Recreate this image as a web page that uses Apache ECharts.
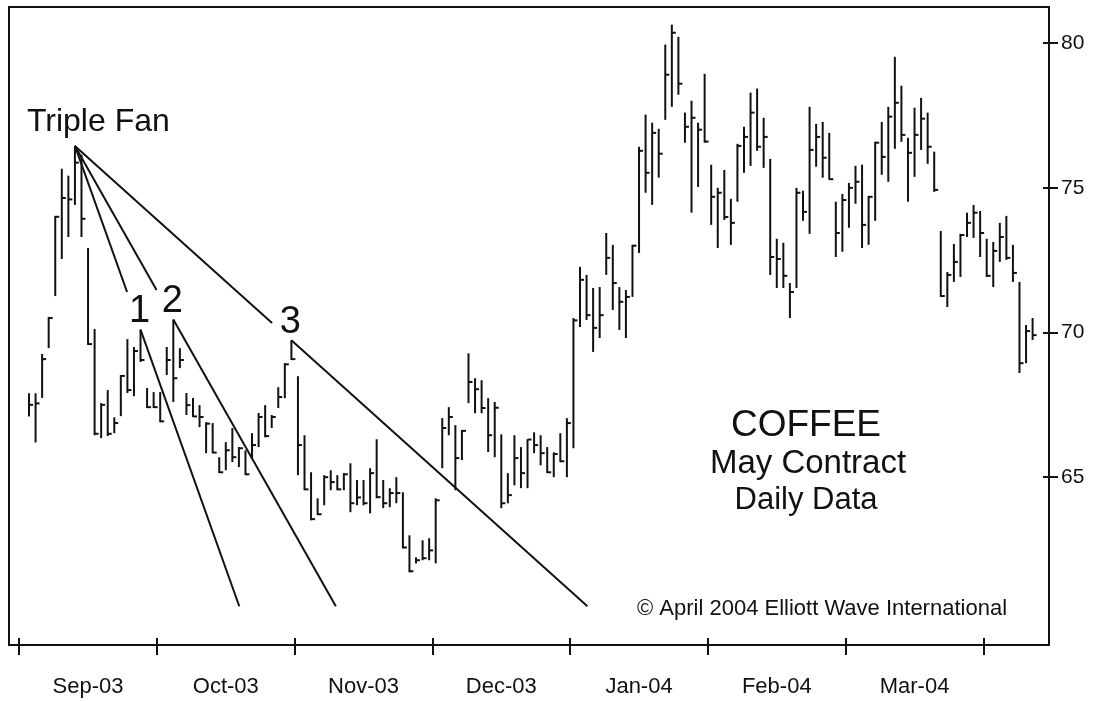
<!DOCTYPE html>
<html>
<head>
<meta charset="utf-8">
<title>Coffee May Contract – Daily Data</title>
<script src="https://cdn.jsdelivr.net/npm/echarts@6/dist/echarts.min.js"></script>
<style>
  html, body { margin: 0; padding: 0; background: #fff; }
  #chart { width: 1108px; height: 701px; }
</style>
</head>
<body>
<div id="chart"></div>
<script>
// ---- data -------------------------------------------------------------
const monthLabels = ['Sep-03', 'Oct-03', 'Nov-03', 'Dec-03', 'Jan-04', 'Feb-04', 'Mar-04'];
// session index on which each month opens (September opens on the Labor Day holiday slot)
const monthStarts = [-1, 20, 41, 62, 83, 104, 125, 146];
const priceTicks = [65, 70, 75, 80];

// daily high / low / close, one entry per trading session
const high = [
  67.9, 67.9, 69.26, 70.54, 74.03, 75.66, 75.42, 76.45, 76.14, 72.92,
  70.12, 67.56, 68.01, 67.07, 68.53, 69.77, 69.5, 70.1, 68.08, 67.94,
  67.94, 69.5, 70.45, 69.46, 67.91, 67.74, 67.49, 66.9, 66.87, 65.69,
  66.21, 66.7, 66.04, 65.93, 66.52, 67.22, 67.49, 67.15, 68.11, 68.94,
  69.73, 68.49, 66.45, 65.17, 64.27, 65.07, 65.24, 65.07, 65.14, 65.48,
  64.9, 64.9, 65.31, 66.31, 64.9, 64.62, 65.0, 64.48, 62.99, 62.23,
  62.82, 62.89, 64.27, 67.04, 67.42, 66.8, 66.63, 69.28, 68.42, 68.35,
  67.73, 67.6, 66.48, 65.14, 66.45, 66.04, 66.31, 66.55, 66.45, 66.04,
  65.86, 66.52, 67.04, 70.5, 72.27, 71.99, 71.54, 71.57, 73.44, 73.03,
  71.57, 71.47, 73.03, 76.42, 77.53, 77.25, 77.04, 79.95, 80.64, 80.22,
  77.6, 78.01, 77.25, 78.94, 75.8, 75.0, 75.62, 74.62, 76.52, 77.11,
  78.29, 78.43, 77.42, 76.0, 73.24, 73.1, 71.71, 75.0, 74.9, 77.8,
  77.21, 77.28, 76.9, 74.52, 74.79, 75.17, 75.76, 75.8, 74.72, 76.59,
  77.28, 77.8, 79.53, 78.53, 76.73, 77.77, 78.11, 77.6, 76.25, 73.51,
  72.09, 73.06, 73.41, 74.14, 74.41, 74.2, 73.24, 73.13, 73.79, 74.03,
  73.03, 71.75, 70.26, 70.5
];
const low = [
  67.1, 66.2, 67.74, 69.46, 71.26, 72.54, 73.3, 74.41, 73.3, 69.57,
  66.45, 66.35, 66.42, 66.52, 67.11, 67.91, 67.8, 68.98, 67.39, 67.39,
  66.9, 68.53, 67.6, 68.77, 67.15, 67.08, 66.73, 65.83, 65.83, 65.14,
  65.24, 65.52, 65.35, 65.07, 65.66, 66.04, 66.38, 66.7, 67.39, 67.73,
  69.05, 65.07, 64.55, 63.51, 63.69, 64.03, 64.55, 64.55, 64.55, 63.79,
  64.03, 64.03, 63.75, 64.27, 63.93, 63.96, 64.1, 62.54, 61.71, 62.02,
  62.13, 62.13, 62.02, 65.31, 66.45, 64.55, 65.59, 67.56, 67.21, 67.21,
  65.87, 65.69, 63.93, 64.1, 64.72, 64.62, 64.62, 65.83, 65.41, 65.14,
  65.0, 65.52, 65.0, 66.0, 70.19, 70.43, 69.33, 69.81, 71.99, 70.78,
  70.09, 69.81, 71.23, 72.75, 74.83, 74.41, 75.35, 77.35, 77.8, 78.22,
  76.56, 74.14, 75.03, 76.56, 73.72, 72.92, 73.89, 73.03, 74.52, 75.52,
  75.76, 76.28, 75.69, 71.99, 71.54, 71.54, 70.5, 71.54, 73.86, 73.41,
  75.73, 75.35, 75.28, 72.61, 72.79, 73.62, 74.45, 72.92, 73.03, 73.86,
  75.45, 75.21, 76.35, 76.59, 74.52, 75.38, 76.31, 75.83, 74.86, 71.23,
  70.88, 71.75, 71.92, 73.3, 73.27, 72.61, 71.92, 71.57, 72.44, 72.51,
  71.75, 68.6, 68.94, 69.74
];
const close = [
  67.5, 67.55, 69.08, 70.5, 74.0, 74.65, 74.6, 75.87, 73.93, 69.6,
  66.5, 67.5, 66.5, 66.87, 68.5, 68.01, 69.36, 69.05, 67.42, 67.42,
  66.93, 69.05, 68.42, 69.05, 67.49, 67.1, 67.08, 66.85, 65.85, 65.17,
  65.93, 65.69, 66.0, 65.1, 66.11, 67.08, 66.42, 67.08, 67.77, 68.9,
  69.08, 66.11, 64.58, 63.55, 63.72, 65.0, 64.83, 64.58, 65.1, 64.1,
  64.3, 64.1, 65.14, 64.31, 64.1, 64.45, 64.45, 62.57, 61.75, 62.13,
  62.2, 62.47, 64.2, 66.7, 67.08, 65.66, 66.6, 68.29, 68.04, 67.39,
  66.45, 67.4, 64.1, 64.38, 65.66, 65.14, 66.3, 66.11, 65.83, 65.17,
  65.8, 65.55, 66.87, 70.42, 71.82, 70.6, 70.16, 70.6, 72.58, 71.71,
  71.06, 71.23, 73.0, 76.28, 75.52, 76.9, 76.18, 78.91, 80.36, 78.6,
  77.11, 77.42, 77.01, 76.6, 74.69, 74.83, 73.99, 73.79, 76.45, 76.76,
  77.6, 76.42, 76.76, 72.61, 72.54, 71.96, 71.4, 74.83, 74.17, 76.31,
  76.76, 76.04, 75.3, 73.44, 74.58, 75.0, 75.21, 73.72, 74.69, 76.56,
  76.07, 77.46, 77.94, 76.83, 76.21, 76.83, 77.39, 76.42, 74.93, 71.26,
  71.99, 72.44, 73.37, 73.79, 74.14, 73.44, 71.96, 72.82, 73.3, 72.58,
  72.06, 68.94, 70.05, 69.91
];

// triple fan: lines from the September high through three later highs
const fanApex = 7;
const fanPivots = [17, 22, 40];
const fanNames = ['1', '2', '3'];
const fanBreak = [71.4, 71.47, 70.33];   // price where each upper leg stops short of its number
const fanEnd = 60.54;                     // price where the lower legs finish

// ---- chart ------------------------------------------------------------
const FONT = "'Liberation Sans', Arial, Helvetica, sans-serif";
const INK = '#111';

const sessions = high.map((h, i) => [i, h, low[i], close[i]]);
const monthTicks = monthStarts.map(s => s - 0.5);
const monthMids = monthLabels.map((_, k) => (monthStarts[k] + monthStarts[k + 1]) / 2 - 0.5);
const fanData = fanPivots.map((p, k) => [fanApex, high[fanApex], p, high[p], fanBreak[k], fanEnd]);

const X_MIN = -3.05, X_MAX = 155.5;
const Y_MIN = 59.2, Y_MAX = 81.25;

function renderBar(params, api) {
  const x = api.value(0);
  const top = api.coord([x, api.value(1)]);
  const bottom = api.coord([x, api.value(2)]);
  const settle = api.coord([x, api.value(3)]);
  const style = { stroke: INK, lineWidth: 2 };
  return {
    type: 'group',
    children: [
      { type: 'line', shape: { x1: top[0], y1: top[1], x2: bottom[0], y2: bottom[1] }, style },
      { type: 'line', shape: { x1: settle[0], y1: settle[1], x2: settle[0] + 4, y2: settle[1] }, style }
    ]
  };
}

function renderFan(params, api) {
  const i0 = api.value(0), v0 = api.value(1), i1 = api.value(2), v1 = api.value(3);
  const at = v => i0 + (v - v0) * (i1 - i0) / (v1 - v0);
  const vb = api.value(4), ve = api.value(5);
  const apex = api.coord([i0, v0]);
  const brk = api.coord([at(vb), vb]);
  const pivot = api.coord([i1, v1]);
  const end = api.coord([at(ve), ve]);
  const style = { stroke: INK, lineWidth: 2 };
  const children = [
    { type: 'line', shape: { x1: apex[0], y1: apex[1], x2: brk[0], y2: brk[1] }, style },
    { type: 'line', shape: { x1: pivot[0], y1: pivot[1], x2: end[0], y2: end[1] }, style },
    {
      type: 'text', x: pivot[0] - 1, y: pivot[1] - 18,
      style: { text: fanNames[params.dataIndex], fill: INK, font: '38px ' + FONT, align: 'center', verticalAlign: 'middle' }
    }
  ];
  if (params.dataIndex === 0) {
    children.push({
      type: 'text', x: apex[0] - 48, y: apex[1] - 24,
      style: { text: 'Triple Fan', fill: INK, font: '32px ' + FONT, align: 'left', verticalAlign: 'middle' }
    });
  }
  return { type: 'group', children };
}

const chart = echarts.init(document.getElementById('chart'), null, { renderer: 'canvas' });

const tickStyle = { color: INK, width: 2 };
chart.setOption({
  animation: false,
  backgroundColor: '#fff',
  grid: {
    left: 9, right: 59, top: 7, bottom: 56,
    show: true, borderColor: INK, borderWidth: 2, backgroundColor: 'transparent'
  },
  xAxis: [
    {
      type: 'value', position: 'bottom', min: X_MIN, max: X_MAX,
      axisLine: { show: false, onZero: false }, splitLine: { show: false },
      axisTick: { show: true, inside: false, length: 10, lineStyle: tickStyle, customValues: monthTicks },
      axisLabel: {
        customValues: monthMids, color: INK, fontSize: 22, fontFamily: FONT, margin: 31,
        formatter: v => {
          const k = monthMids.findIndex(m => Math.abs(m - v) < 0.01);
          return k >= 0 ? monthLabels[k] : '';
        }
      }
    },
    {
      type: 'value', position: 'bottom', min: X_MIN, max: X_MAX,
      axisLine: { show: false, onZero: false }, splitLine: { show: false }, axisLabel: { show: false },
      axisTick: { show: true, inside: true, length: 7, lineStyle: tickStyle, customValues: monthTicks }
    }
  ],
  yAxis: [
    {
      type: 'value', position: 'right', min: Y_MIN, max: Y_MAX,
      axisLine: { show: false, onZero: false }, splitLine: { show: false },
      axisTick: { show: true, inside: false, length: 9, lineStyle: tickStyle, customValues: priceTicks },
      axisLabel: { customValues: priceTicks, color: INK, fontSize: 21, fontFamily: FONT, margin: 12 }
    },
    {
      type: 'value', position: 'right', offset: 0, min: Y_MIN, max: Y_MAX,
      axisLine: { show: false, onZero: false }, splitLine: { show: false }, axisLabel: { show: false },
      axisTick: { show: true, inside: true, length: 6, lineStyle: tickStyle, customValues: priceTicks }
    }
  ],
  series: [
    {
      type: 'custom', name: 'Coffee', xAxisIndex: 0, yAxisIndex: 0,
      renderItem: renderBar, data: sessions,
      encode: { x: 0, y: [1, 2, 3] }, z: 3
    },
    {
      type: 'custom', name: 'Fan', xAxisIndex: 0, yAxisIndex: 0,
      renderItem: renderFan, data: fanData, clip: false,
      encode: { x: [0, 2], y: [1, 3] }, z: 4
    }
  ],
  graphic: [
    { type: 'text', x: 806, y: 426, z: 10, style: { text: 'COFFEE', fill: INK, font: '37px ' + FONT, align: 'center', verticalAlign: 'middle' } },
    { type: 'text', x: 808, y: 464, z: 10, style: { text: 'May Contract', fill: INK, font: '33px ' + FONT, align: 'center', verticalAlign: 'middle' } },
    { type: 'text', x: 806, y: 500, z: 10, style: { text: 'Daily Data', fill: INK, font: '31px ' + FONT, align: 'center', verticalAlign: 'middle' } },
    { type: 'text', x: 822, y: 609, z: 10, style: { text: '\u00A9 April 2004 Elliott Wave International', fill: INK, font: '22px ' + FONT, align: 'center', verticalAlign: 'middle' } }
  ]
});
</script>
</body>
</html>
